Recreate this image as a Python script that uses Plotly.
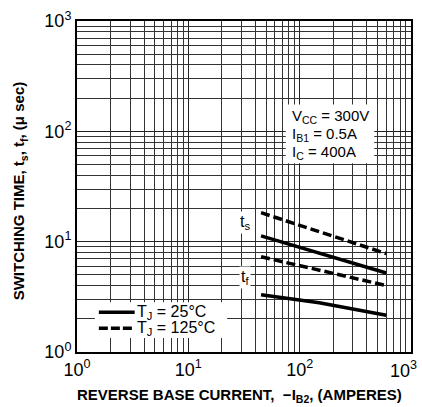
import plotly.graph_objects as go

# Data
ib2 = [45, 150, 600]
ts_25 = [11.3, 7.9, 5.2]
ts_125 = [18.3, 12.3, 7.8]
tf_25 = [3.3, 2.8, 2.15]
tf_125 = [7.3, 5.5, 4.0]

x_ticks = [1, 10, 100]
x_tick_text = ["10<sup>0</sup>", "10<sup>1</sup>", "10<sup>2</sup>"]
y_ticks = [1, 10, 100, 1000]
y_tick_text = ["10<sup>0</sup>", "10<sup>1</sup>", "10<sup>2</sup>", "10<sup>3</sup>"]
cond_lines = ["V<sub>CC</sub> = 300V", "I<sub>B1</sub> = 0.5A", "I<sub>C</sub> = 400A"]
legend_labels = ["T<sub>J</sub> = 25°C", "T<sub>J</sub> = 125°C"]

FONT = "Liberation Sans, Arial, sans-serif"
L, R, T, B = 77, 9, 19, 55
PW, PH = 422 - L - R, 407 - T - B


def px(xp):
    return (xp - L) / PW


def py(yp):
    return (407 - B - yp) / PH


fig = go.Figure()
solid = dict(color="black", width=3.5)
dashed = dict(color="black", width=3.5, dash="9px,4px")
fig.add_trace(go.Scatter(x=ib2, y=ts_125, mode="lines", line=dashed, showlegend=False))
fig.add_trace(go.Scatter(x=ib2, y=ts_25, mode="lines", line=solid, showlegend=False))
fig.add_trace(go.Scatter(x=ib2, y=tf_125, mode="lines", line=dashed, showlegend=False))
fig.add_trace(go.Scatter(x=ib2, y=tf_25, mode="lines", line=solid, showlegend=False))

axis_common = dict(
    type="log",
    showgrid=True, gridcolor="#222", gridwidth=1,
    minor=dict(showgrid=True, gridcolor="#333", gridwidth=0.8, dtick="D1"),
    showline=True, linecolor="black", linewidth=2, mirror=True,
    ticks="", zeroline=False,
    tickfont=dict(family=FONT, size=18, color="black"),
)
fig.update_xaxes(range=[0, 3], tickvals=x_ticks, ticktext=x_tick_text, **axis_common)
fig.update_yaxes(range=[0, 3], tickvals=y_ticks, ticktext=y_tick_text, **axis_common)

annotations = [
    dict(x=px(421), y=py(370), xref="paper", yref="paper", showarrow=False,
         text="10<sup>3</sup>", font=dict(family=FONT, size=18, color="black"),
         xanchor="right", yanchor="middle"),
    dict(x=px(240), y=py(396), xref="paper", yref="paper", showarrow=False,
         text="<b>REVERSE BASE CURRENT,  −I<sub>B2</sub>, (AMPERES)</b>",
         font=dict(family=FONT, size=15, color="black"), xanchor="center", yanchor="middle"),
    dict(x=px(20), y=py(190), xref="paper", yref="paper", showarrow=False, textangle=-90,
         text="<b>SWITCHING TIME, t<sub>s</sub>, t<sub>f</sub>, (μ sec)</b>",
         font=dict(family=FONT, size=15, color="black"), xanchor="center", yanchor="middle"),
    dict(x=px(246), y=py(222), xref="paper", yref="paper", showarrow=False,
         text="t<sub>s</sub>", bgcolor="white",
         font=dict(family=FONT, size=16, color="black"), xanchor="center", yanchor="middle"),
    dict(x=px(246), y=py(277), xref="paper", yref="paper", showarrow=False,
         text="t<sub>f</sub>", bgcolor="white",
         font=dict(family=FONT, size=16, color="black"), xanchor="center", yanchor="middle"),
]
for i, t in enumerate(legend_labels):
    annotations.append(dict(
        x=px(135), y=py(312 + 16 * i), xref="paper", yref="paper", showarrow=False,
        text=t, font=dict(family=FONT, size=16, color="black"),
        xanchor="left", yanchor="middle"))
for i, t in enumerate(cond_lines):
    annotations.append(dict(
        x=px(291), y=py(115 + 18 * i), xref="paper", yref="paper", showarrow=False,
        text=t, font=dict(family=FONT, size=15, color="black"),
        xanchor="left", yanchor="middle"))

shapes = [
    dict(type="rect", xref="paper", yref="paper", x0=px(287), x1=px(376), y0=py(162), y1=py(103),
         fillcolor="white", line=dict(width=0), layer="above"),
    dict(type="rect", xref="paper", yref="paper", x0=px(95), x1=px(228), y0=py(338), y1=py(302),
         fillcolor="white", line=dict(width=0), layer="above"),
    dict(type="line", xref="paper", yref="paper", x0=px(99), x1=px(135), y0=py(312), y1=py(312),
         line=dict(color="black", width=3.5), layer="above"),
    dict(type="line", xref="paper", yref="paper", x0=px(99), x1=px(135), y0=py(328), y1=py(328),
         line=dict(color="black", width=3.5, dash="9px,3px"), layer="above"),
]

fig.update_layout(
    width=422, height=407,
    margin=dict(l=L, r=R, t=T, b=B),
    paper_bgcolor="white", plot_bgcolor="white",
    annotations=annotations, shapes=shapes,
    showlegend=False,
)

fig.write_html("out.html")
